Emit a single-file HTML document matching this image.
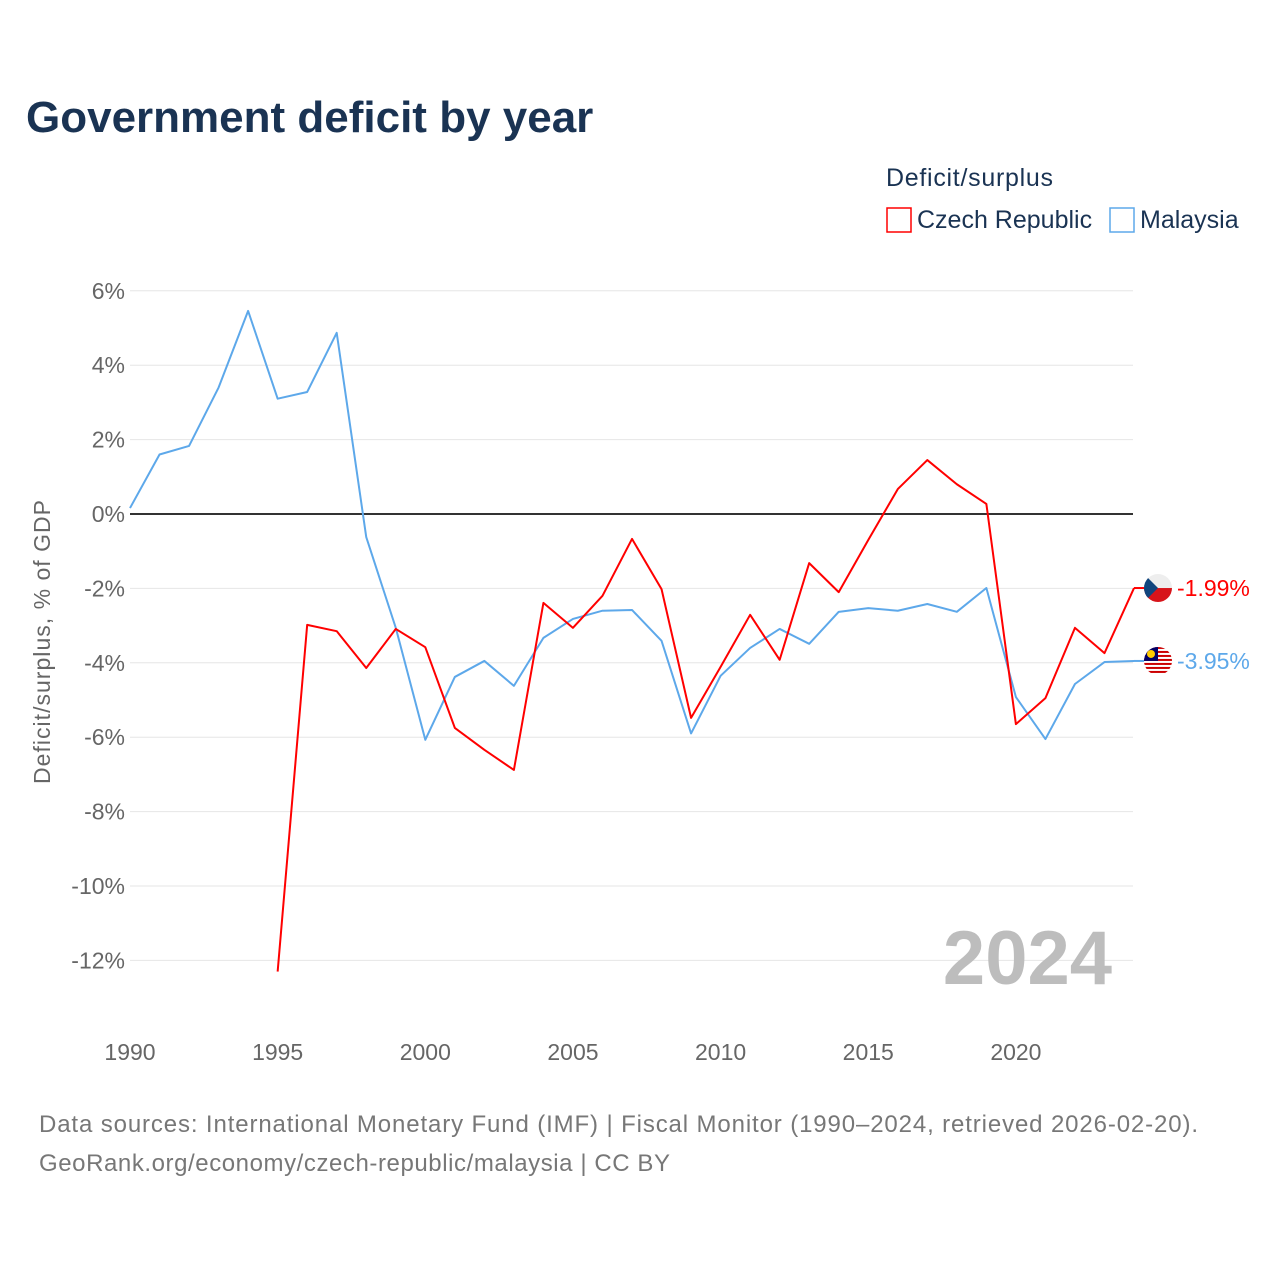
<!DOCTYPE html>
<html><head><meta charset="utf-8"><style>
body{margin:0;background:#fff;width:1280px;height:1280px;overflow:hidden;font-family:"Liberation Sans",sans-serif}
svg text{font-family:"Liberation Sans",sans-serif}
</style></head><body>
<svg width="1280" height="1280">
<text x="26" y="132" font-size="44" font-weight="bold" fill="#1a3353">Government deficit by year</text>
<text x="886" y="186" font-size="25" fill="#1a3353" textLength="167">Deficit/surplus</text>
<g><rect x="887" y="208" width="24" height="24" fill="none" stroke="#f00" stroke-width="1.5"/><text x="917" y="228" font-size="25" fill="#1a3353">Czech Republic</text></g>
<g><rect x="1110" y="208" width="24" height="24" fill="none" stroke="#5da8ea" stroke-width="1.5"/><text x="1140" y="228" font-size="25" fill="#1a3353">Malaysia</text></g>
<g id="grid"></g><g id="yt"></g><g id="xt"></g>
<text x="1112" y="984" font-size="76" font-weight="bold" fill="#bdbdbd" text-anchor="end">2024</text>
<text transform="translate(50,642) rotate(-90)" font-size="23" fill="#666" text-anchor="middle" textLength="284">Deficit/surplus, % of GDP</text>
<g id="series"></g>
<text x="39" y="1132" font-size="24" fill="#777" textLength="1159">Data sources: International Monetary Fund (IMF) | Fiscal Monitor (1990–2024, retrieved 2026-02-20).</text>
<text x="39" y="1171" font-size="24" fill="#777" textLength="631">GeoRank.org/economy/czech-republic/malaysia | CC BY</text>
</svg>
<script>
const years=[];for(let y=1990;y<=2024;y++)years.push(y);
const malaysia=[0.16,1.6,1.83,3.4,5.46,3.1,3.28,4.87,-0.62,-3.06,-6.07,-4.38,-3.95,-4.62,-3.33,-2.82,-2.6,-2.58,-3.41,-5.9,-4.35,-3.6,-3.09,-3.49,-2.63,-2.53,-2.6,-2.42,-2.63,-1.99,-4.92,-6.05,-4.57,-3.98,-3.95];
const czechYears=[];for(let y=1995;y<=2024;y++)czechYears.push(y);
const czech=[-12.3,-2.98,-3.15,-4.14,-3.09,-3.58,-5.75,-6.34,-6.88,-2.39,-3.06,-2.2,-0.67,-2.02,-5.48,-4.11,-2.71,-3.92,-1.32,-2.1,-0.7,0.67,1.45,0.8,0.27,-5.65,-4.95,-3.06,-3.74,-1.99];
const yTicks=[6,4,2,0,-2,-4,-6,-8,-10,-12];
const xTicks=[1990,1995,2000,2005,2010,2015,2020];
const NS='http://www.w3.org/2000/svg';
const X=v=>130+(v-1990)*29.53, Y=v=>514-v*37.2;
function mk(t,a,p){const e=document.createElementNS(NS,t);for(const k in a)e.setAttribute(k,a[k]);p.appendChild(e);return e;}
const grid=document.getElementById('grid'),yt=document.getElementById('yt'),xt=document.getElementById('xt'),ser=document.getElementById('series');
yTicks.forEach(v=>{
 const l=mk('line',{x1:130,x2:1133,y1:Y(v),y2:Y(v),stroke:v===0?'#333':'#e6e6e6','stroke-width':v===0?2:1},grid);
 
 
 const t=mk('text',{x:125,y:Y(v)+8,'font-size':23,fill:'#666','text-anchor':'end'},yt);t.textContent=v+'%';
 
 
});
xTicks.forEach(v=>{
 const t=mk('text',{x:X(v),y:1060,'font-size':23,fill:'#666','text-anchor':'middle'},xt);t.textContent=v;
 
 
});
function line(xs,vs,c,name){
 const p=mk('polyline',{points:xs.map((x,i)=>X(x)+','+Y(vs[i])).join(' '),fill:'none',stroke:c,'stroke-width':2,'stroke-linejoin':'round'},ser);
 
 
}
line(years,malaysia,'#5da8ea','malaysia-line');
line(czechYears,czech,'#f00','czech-line');
const cy=Y(czech[czech.length-1]),my=Y(malaysia[malaysia.length-1]);
mk('line',{x1:1134,x2:1146,y1:cy,y2:cy,stroke:'#f00','stroke-width':2},ser);
mk('line',{x1:1134,x2:1146,y1:my,y2:my,stroke:'#5da8ea','stroke-width':2},ser);
const f1=mk('g',{},ser);


const cp1=mk('clipPath',{id:'c1'},f1);mk('circle',{cx:1158,cy:cy,r:14},cp1);
const g1=mk('g',{'clip-path':'url(#c1)'},f1);
mk('rect',{x:1144,y:cy-14,width:28,height:14,fill:'#eee'},g1);
mk('rect',{x:1144,y:cy,width:28,height:14,fill:'#d7141a'},g1);
mk('polygon',{points:`1144,${cy-14} 1158,${cy} 1144,${cy+14}`,fill:'#11457e'},g1);
const f2=mk('g',{},ser);


const cp=mk('clipPath',{id:'c2'},f2);mk('circle',{cx:1158,cy:my,r:14},cp);
const g2=mk('g',{'clip-path':'url(#c2)'},f2);
mk('rect',{x:1144,y:my-14,width:28,height:28,fill:'#fff'},g2);
for(let i=0;i<7;i++)mk('rect',{x:1144,y:my-14+i*4,width:28,height:2,fill:'#cc0001'},g2);
mk('rect',{x:1144,y:my-14,width:14,height:14,fill:'#010066'},g2);
mk('circle',{cx:1151,cy:my-7,r:4,fill:'#fc0'},g2);
const t1=mk('text',{x:1177,y:cy+8,'font-size':23,fill:'#f00'},ser);t1.textContent=czech[czech.length-1].toFixed(2)+'%';


const t2=mk('text',{x:1177,y:my+8,'font-size':23,fill:'#5da8ea'},ser);t2.textContent=malaysia[malaysia.length-1].toFixed(2)+'%';


</script>
</body></html>
